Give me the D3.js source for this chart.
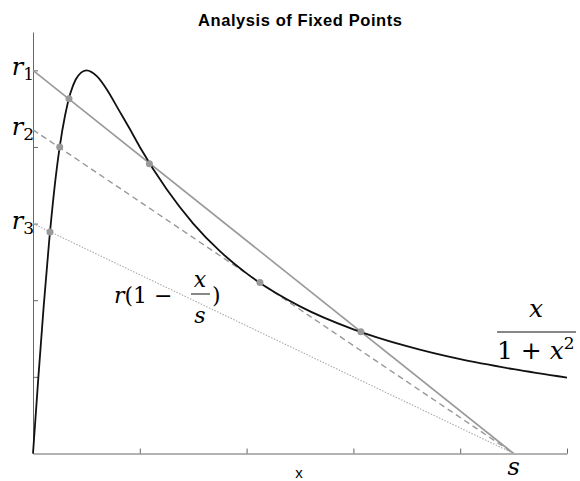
<html>
<head>
    <script src="https://d3js.org/d3.v7.min.js"></script>
    <style>
      body { margin: 0; background: #fff; }
    </style>
</head>
<body>
<svg width=580 height=481></svg>
<script>
// curve y = x/(1+x^2)
const curveX = [0, 0.1, 0.2, 0.3, 0.4, 0.5, 0.6, 0.7, 0.8, 0.9, 1.0, 1.2, 1.4, 1.6, 1.8, 2.0, 2.5, 3.0, 3.5, 4.0, 5, 6, 7, 8, 9, 10];
const curveY = [0, 0.099, 0.192, 0.275, 0.345, 0.400, 0.441, 0.470, 0.488, 0.497, 0.500, 0.492, 0.473, 0.449, 0.425, 0.400, 0.345, 0.300, 0.264, 0.235, 0.192, 0.162, 0.140, 0.123, 0.110, 0.099];

// straight lines r(1 - x/s)
const rNames = ['r1', 'r2', 'r3'];
const rValues = [0.5, 0.4225, 0.3];
const sValue = 9;

// fixed points (intersections)
const fixedX = [0.674, 2.18, 6.14, 0.5, 4.25, 0.318];
const fixedY = [0.463, 0.378, 0.159, 0.400, 0.223, 0.289];

const xTicks = [2, 4, 6, 8, 10];
const yTicks = [0.1, 0.2, 0.3, 0.4, 0.5];

const serif = 'DejaVu Serif'
const sans = 'Liberation Sans'

let svg = d3.select('svg')
let x = d3.scaleLinear().domain([0, 10]).range([33, 567])
let y = d3.scaleLinear().domain([0, 0.55]).range([453.5, 32])

// title
svg.append('text')
  .attr('x', 300).attr('y', 26)
  .attr('text-anchor', 'middle')
  .attr('textLength', 204)
  .attr('font-family', sans)
  .attr('font-weight', 'bold')
  .attr('font-size', 16.5)
  .text('Analysis of Fixed Points')

// axes
svg.append('g')
  .attr('transform', `translate(0,${y(0)})`)
  .call(d3.axisBottom(x).tickValues(xTicks).tickSizeInner(-5).tickSizeOuter(0).tickFormat(''))
svg.append('g')
  .attr('transform', `translate(${x(0)},0)`)
  .call(d3.axisLeft(y).tickValues(yTicks).tickSizeInner(-5).tickSizeOuter(0).tickFormat(''))
svg.selectAll('.domain, .tick line').attr('stroke', '#666')

// lines r(1 - x/s)
let dashes = ['none', '6,4', '1.5,1.5']
let lineColors = ['#999', '#999', '#aaa']
let lineWidths = [1.6, 1.4, 1.1]
let line = d3.line().x(d => x(d[0])).y(d => y(d[1]))
rValues.forEach((r, i) => {
  svg.append('path')
    .attr('d', line([[0, r], [sValue, 0]]))
    .attr('fill', 'none')
    .attr('stroke', lineColors[i])
    .attr('stroke-width', lineWidths[i])
    .attr('stroke-dasharray', dashes[i])
})

// the curve
svg.append('path')
  .attr('d', d3.line().curve(d3.curveMonotoneX).x(d => x(d[0])).y(d => y(d[1]))(curveX.map((v, i) => [v, curveY[i]])))
  .attr('fill', 'none')
  .attr('stroke', '#111')
  .attr('stroke-width', 1.8)

// fixed points
svg.append('g')
  .selectAll('circle')
  .data(fixedX)
  .join('circle')
  .attr('cx', d => x(d))
  .attr('cy', (d, i) => y(fixedY[i]))
  .attr('r', 3.5)
  .attr('fill', '#999')

// r labels on the y axis
rValues.forEach((r, i) => {
  let t = svg.append('text')
    .attr('x', x(0) + 1).attr('y', y(r) + 5)
    .attr('text-anchor', 'end')
    .attr('font-family', serif)
    .attr('font-size', 24)
  t.append('tspan').attr('font-style', 'italic').text('r')
  t.append('tspan').attr('dy', 5).attr('font-size', 17).text(rNames[i].slice(1))
})

// x axis labels
svg.append('text')
  .attr('x', 299).attr('y', 478)
  .attr('text-anchor', 'middle')
  .attr('font-family', sans)
  .attr('font-size', 15)
  .text('x')
svg.append('text')
  .attr('x', x(sValue)).attr('y', 475)
  .attr('text-anchor', 'middle')
  .attr('font-family', serif)
  .attr('font-style', 'italic')
  .attr('font-size', 24)
  .text('s')

// label r(1 - x/s)
let lab = svg.append('g').attr('font-family', serif).attr('font-size', 22)
let t1 = lab.append('text').attr('x', 114).attr('y', 303)
t1.append('tspan').attr('font-style', 'italic').text('r')
t1.append('tspan').text('(1 \u2212')
lab.append('text').attr('x', 200).attr('y', 287).attr('text-anchor', 'middle')
  .attr('font-style', 'italic').text('x')
lab.append('line').attr('x1', 191).attr('x2', 210).attr('y1', 294).attr('y2', 294)
  .attr('stroke', '#111').attr('stroke-width', 1)
lab.append('text').attr('x', 200).attr('y', 323).attr('text-anchor', 'middle')
  .attr('font-style', 'italic').text('s')
lab.append('text').attr('x', 212).attr('y', 303).text(')')

// label x/(1+x^2)
let lab2 = svg.append('g').attr('font-family', serif).attr('font-size', 25)
lab2.append('text').attr('x', 536).attr('y', 317).attr('text-anchor', 'middle')
  .attr('font-style', 'italic').text('x')
lab2.append('line').attr('x1', 497).attr('x2', 576).attr('y1', 332).attr('y2', 332)
  .attr('stroke', '#111').attr('stroke-width', 1.2)
let t2 = lab2.append('text').attr('x', 497).attr('y', 359)
t2.append('tspan').text('1 + ')
t2.append('tspan').attr('font-style', 'italic').text('x')
t2.append('tspan').attr('dy', -10).attr('font-size', 17).text('2')
</script>
</body>
</html>
